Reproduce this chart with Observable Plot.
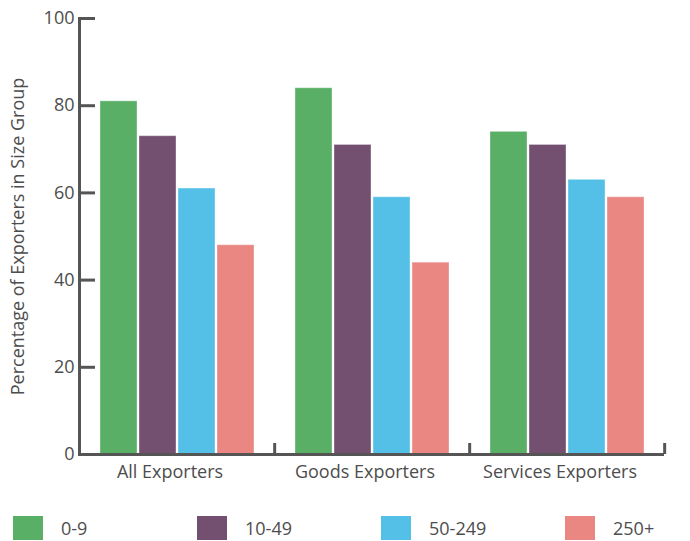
<!DOCTYPE html>
<html>
<head>
<meta charset="utf-8">
<script src="https://cdn.jsdelivr.net/npm/d3@7"></script>
<script src="https://cdn.jsdelivr.net/npm/@observablehq/plot@0.6"></script>
<style>
  html, body { margin: 0; padding: 0; background: #fff; }
  body { width: 690px; height: 541px; overflow: hidden; font-family: "Open Sans", "Liberation Sans", Arial, sans-serif; color: #4d4d4d; }
  #legend { display: flex; padding: 21px 0 0 13px; }
  .item { display: flex; align-items: flex-start; width: 184px; flex: 0 0 184px; height: 24px; }
  .sw { width: 30px; height: 24px; margin-right: 18px; flex: 0 0 30px; }
  .lab { font-size: 18px; line-height: 18px; margin-top: 3px; color: #4d4d4d; }
</style>
</head>
<body>
<div id="chart"></div>
<div id="legend"></div>
<script>
const groups = ["All Exporters", "Goods Exporters", "Services Exporters"];
const sizes = ["0-9", "10-49", "50-249", "250+"];
const colors = ["#59AF66", "#735070", "#55C0E7", "#EA8782"];
const allExporters = [81, 73, 61, 48];
const goodsExporters = [84, 71, 59, 44];
const servicesExporters = [74, 71, 63, 59];
const yTicks = [0, 20, 40, 60, 80, 100];
const yLabel = "Percentage of Exporters in Size Group";

const seriesByGroup = [allExporters, goodsExporters, servicesExporters];
const rows = groups.flatMap((g, i) => sizes.map((s, j) => ({group: g, size: s, value: seriesByGroup[i][j]})));

const W = 690, H = 495, ML = 78, MR = 26, MT = 18, MB = 41;
const facetW = (W - ML - MR) / groups.length;
const axisColor = "#555";

const chart = Plot.plot({
  width: W, height: H,
  marginLeft: ML, marginRight: MR, marginTop: MT, marginBottom: MB,
  style: {fontFamily: "'Open Sans', 'Liberation Sans', Arial, sans-serif", color: "#4d4d4d", background: "#fff"},
  fx: {domain: groups, paddingInner: 0, paddingOuter: 0, label: null},
  x: {domain: sizes, paddingInner: 0.06, paddingOuter: 0.52, axis: null},
  y: {domain: [0, 100], axis: null},
  color: {domain: sizes, range: colors},
  marks: [
    Plot.barY(rows, {fx: "group", x: "size", y: "value", fill: "size", stroke: "#fff", strokeOpacity: 0.35, strokeWidth: 1}),
    Plot.ruleY([0], {stroke: axisColor, strokeWidth: 3}),
    Plot.frame({anchor: "left", facetAnchor: "left", stroke: axisColor, strokeWidth: 3}),
    Plot.axisY({ticks: yTicks, tickSize: 0, tickPadding: 5, fontSize: 18, label: yLabel, labelArrow: "none", labelAnchor: "center", labelOffset: 68}),
    Plot.axisY({ticks: yTicks, text: null, tickSize: -16, stroke: axisColor, strokeWidth: 3, label: null}),
    Plot.axisFx({anchor: "bottom", tickSize: 0, tickPadding: 11, fontSize: 18, dx: -7, label: null}),
    Plot.axisFx({anchor: "bottom", text: null, tickSize: -11, dx: facetW / 2, stroke: axisColor, strokeWidth: 3, label: null})
  ]
});
document.getElementById("chart").append(chart);

const legend = d3.select("#legend");
sizes.forEach((s, i) => {
  const it = legend.append("div").attr("class", "item");
  it.append("div").attr("class", "sw").style("background", colors[i]);
  it.append("span").attr("class", "lab").text(s);
});
</script>
</body>
</html>
